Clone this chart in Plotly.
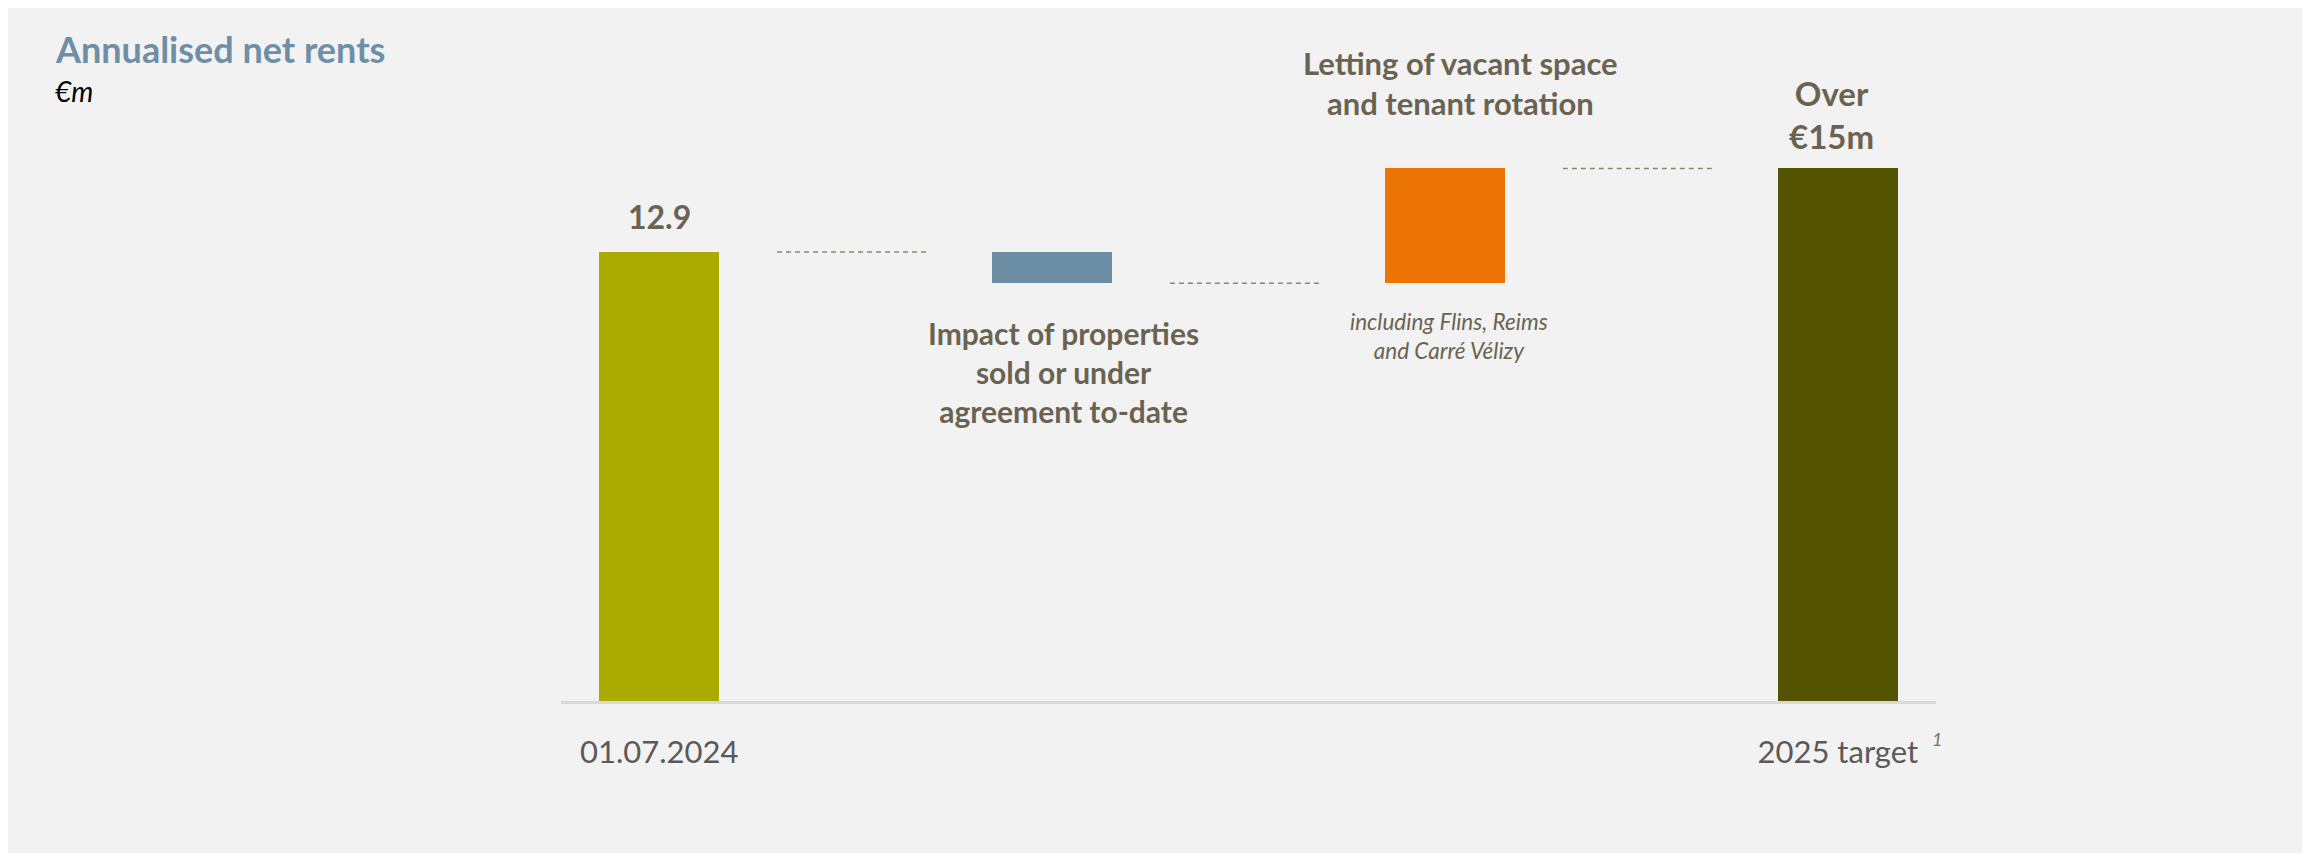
import plotly.graph_objects as go

# ---- data ----
categories = ["01.07.2024", "Impact of properties sold", "Letting of vacant space", "2025 target"]
tick_labels = ["01.07.2024", "", "", "2025 target"]
start_value = 12.9
changes = [-0.9, 3.3]
target_value = 15.3
bar_colors = ["#AAAA00", "#6C8EA4", "#EC7404", "#545400"]

# ---- layout constants ----
W, H = 2294, 845
PX_PER_UNIT = 34.81
ZERO_PX = 693          # y pixel (from top of figure) of value 0
X_LEFT_PX, X_RIGHT_PX = 553, 1928
TAUPE = "#6B6352"
FONT = "Lato"

# waterfall geometry from data
bases = [0]
heights = [start_value]
level = start_value
levels = [level]
for c in changes:
    bases.append(level)
    heights.append(c)
    level += c
    levels.append(level)
bases.append(0)
heights.append(target_value)

xs = list(range(len(categories)))

fig = go.Figure()
fig.add_trace(go.Bar(
    x=xs, y=heights, base=bases, width=0.305,
    marker=dict(color=bar_colors, line=dict(width=0)),
    hoverinfo="skip", showlegend=False,
))

# dashed connectors
for i, lv in enumerate(levels):
    fig.add_trace(go.Scatter(
        x=[i + 0.3, i + 0.685], y=[lv, lv], mode="lines",
        line=dict(color="#8C8476", width=1.5, dash="5px,4px"),
        hoverinfo="skip", showlegend=False,
    ))

y_top = ZERO_PX / PX_PER_UNIT

annotations = [
    dict(x=0, y=start_value + 1.02, text=f"<b>{start_value:.1f}</b>",
         font=dict(family=FONT, size=32, color=TAUPE)),
    dict(x=1.03, y=9.45, text="<b>Impact of properties<br>sold or under<br>agreement to-date</b>",
         font=dict(family=FONT, size=30, color=TAUPE)),
    dict(x=2.04, y=17.75, text="<b>Letting of vacant space<br>and tenant rotation</b>",
         font=dict(family=FONT, size=31, color=TAUPE)),
    dict(x=2.01, y=10.49, text="<i>including Flins, Reims<br>and Carré Vélizy</i>",
         font=dict(family=FONT, size=22.5, color=TAUPE)),
    dict(x=2.985, y=16.85, text=f"<b>Over<br>€{int(target_value)}m</b>",
         font=dict(family=FONT, size=33, color=TAUPE)),
]
for a in annotations:
    a.update(xref="x", yref="y", showarrow=False, xanchor="center", yanchor="middle")

annotations += [
    dict(xref="paper", yref="paper", x=1929 / W, y=1 - 731 / H, xanchor="center", yanchor="middle",
         text="<i>1</i>", showarrow=False,
         font=dict(family=FONT, size=18, color="#7A7262")),
    dict(xref="paper", yref="paper", x=45 / W, y=1 - 41 / H, xanchor="left", yanchor="middle",
         text="<b>Annualised net rents</b>", showarrow=False,
         font=dict(family=FONT, size=36, color="#6E8FA6")),
    dict(xref="paper", yref="paper", x=45 / W, y=1 - 83 / H, xanchor="left", yanchor="middle",
         text="<i>€m</i>", showarrow=False,
         font=dict(family=FONT, size=28, color="#000000")),
]

fig.update_layout(
    width=W, height=H,
    margin=dict(l=0, r=0, t=0, b=0),
    paper_bgcolor="#F2F2F2", plot_bgcolor="#F2F2F2",
    annotations=annotations,
    bargap=0,
    xaxis=dict(
        domain=[X_LEFT_PX / W, X_RIGHT_PX / W],
        range=[-0.25, 3.25],
        tickvals=xs, ticktext=tick_labels,
        showgrid=False, zeroline=False,
        showline=True, linecolor="#D9D9D9", linewidth=3,
        ticks="", ticklabelstandoff=22,
        tickfont=dict(family=FONT, size=31, color="#595959"),
        fixedrange=True,
    ),
    yaxis=dict(
        domain=[(H - ZERO_PX) / H, 1],
        range=[0, y_top],
        visible=False, showgrid=False, zeroline=False, fixedrange=True,
    ),
)

fig.write_html("out.html")
